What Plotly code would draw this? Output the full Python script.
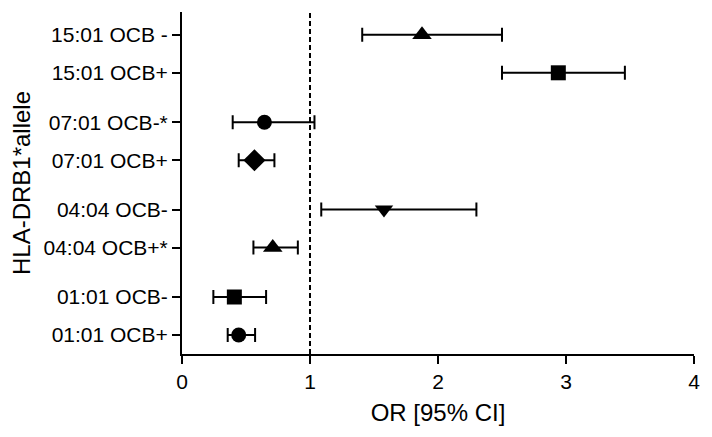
import plotly.graph_objects as go

labels = ["01:01 OCB+", "01:01 OCB-", "04:04 OCB+*", "04:04 OCB-",
          "07:01 OCB+", "07:01 OCB-*", "15:01 OCB+", "15:01 OCB -"]
row_pos = [0.5, 1.5, 2.8, 3.8, 5.1, 6.1, 7.4, 8.4]
or_val = [0.443, 0.409, 0.709, 1.578, 0.566, 0.644, 2.94, 1.875]
ci_low = [0.357, 0.245, 0.558, 1.088, 0.443, 0.396, 2.50, 1.408]
ci_high = [0.571, 0.657, 0.905, 2.30, 0.722, 1.035, 3.46, 2.50]
symbols = ["circle", "square", "triangle-up", "triangle-down",
           "diamond", "circle", "square", "triangle-up"]
sizes = [15, 15, 17, 16, 17, 15, 15, 17]

x_ticks = [0, 1, 2, 3, 4]
ref_line = 1

FONT = "Arial, Liberation Sans, Helvetica, sans-serif"

fig = go.Figure()
fig.add_trace(go.Scatter(
    x=or_val, y=row_pos, mode="markers",
    marker=dict(symbol=symbols, size=sizes, color="#000000", opacity=1,
                line=dict(width=0, color="#000000")),
    error_x=dict(type="data", symmetric=False,
                 array=[h - v for h, v in zip(ci_high, or_val)],
                 arrayminus=[v - l for v, l in zip(or_val, ci_low)],
                 color="#000000", thickness=2, width=7),
    showlegend=False,
))

fig.add_shape(type="line", x0=ref_line, x1=ref_line, y0=0, y1=1,
              xref="x", yref="paper",
              line=dict(color="black", width=2, dash="5px,3px"))

# page body has an 8px margin, so the figure is sized to fit the 712x437 window
fig.update_layout(
    width=704, height=429,
    margin=dict(l=174, r=18, t=4, b=83, autoexpand=False),
    paper_bgcolor="white", plot_bgcolor="white",
    font=dict(family=FONT, color="black", size=21),
    xaxis=dict(range=[0, 4], tickvals=x_ticks, ticktext=[str(t) for t in x_ticks],
               showgrid=False, zeroline=False, showline=True, linecolor="black",
               linewidth=2, ticks="outside", ticklen=8, tickwidth=2,
               tickcolor="black", tickfont=dict(size=21), automargin=False,
               ticklabelstandoff=0,
               title=dict(text="OR [95% CI]", font=dict(size=24), standoff=12)),
    yaxis=dict(range=[0, 9.0], tickvals=row_pos, ticktext=labels,
               showgrid=False, zeroline=False, showline=True, linecolor="black",
               linewidth=2, ticks="outside", ticklen=8, tickwidth=2,
               tickcolor="black", tickfont=dict(size=21), automargin=False,
               title=dict(text="HLA-DRB1*allele", font=dict(size=24), standoff=17)),
)

fig.write_html("out.html")
